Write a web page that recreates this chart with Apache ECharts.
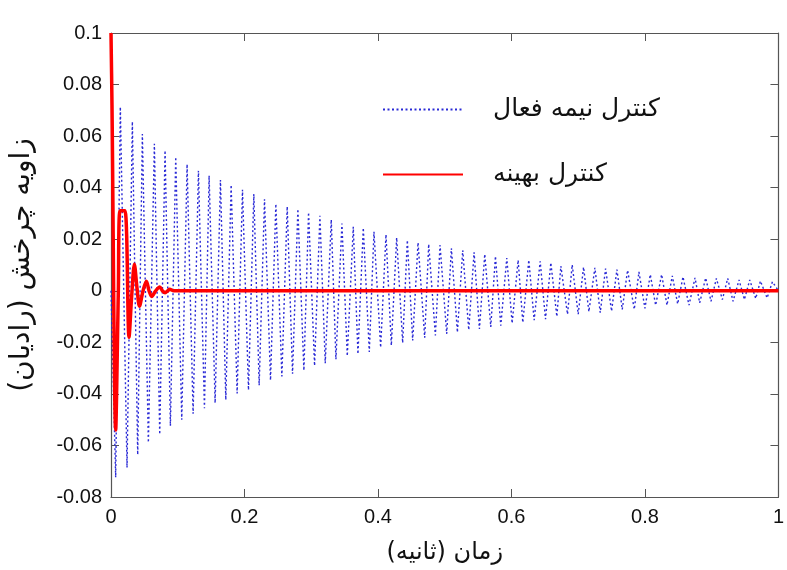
<!DOCTYPE html>
<html>
<head>
<meta charset="utf-8">
<script src="https://cdn.jsdelivr.net/npm/echarts@6/dist/echarts.min.js"></script>
<style>html,body{margin:0;padding:0;background:#fff;}#c{width:787px;height:570px;}</style>
</head>
<body>
<div id="c"></div>
<script>
// Tick labels
const xTicks = [0, 0.2, 0.4, 0.6, 0.8, 1];
const yTicks = [-0.08, -0.06, -0.04, -0.02, 0, 0.02, 0.04, 0.06, 0.08, 0.1];

// Series names
const seriesNames = ['کنترل نیمه فعال', 'کنترل بهینه'];
const xName = 'زمان (ثانیه)';
const yName = 'زاویه چرخش (رادیان)';

// Semi-active control (blue dotted): read peaks and troughs
const peakTimes = [0.014, 0.032, 0.047, 0.065, 0.081, 0.097, 0.114, 0.131, 0.147, 0.164, 0.180, 0.197, 0.214, 0.230, 0.247, 0.264, 0.280, 0.296, 0.313, 0.330,
  0.346, 0.363, 0.378, 0.394, 0.412, 0.428, 0.444, 0.460, 0.476, 0.493, 0.510, 0.527, 0.544, 0.560, 0.576, 0.593, 0.610, 0.626, 0.643, 0.659,
  0.674, 0.691, 0.708, 0.725, 0.741, 0.758, 0.774, 0.791, 0.808, 0.825, 0.841, 0.857, 0.875, 0.891, 0.907, 0.924, 0.941, 0.957, 0.973, 0.991];
const peakValues = [0.0713, 0.0656, 0.0608, 0.0570, 0.0544, 0.0519, 0.0491, 0.0466, 0.0447, 0.0430, 0.0411, 0.0392, 0.0375, 0.0355, 0.0337, 0.0327, 0.0317, 0.0304, 0.0291, 0.0276,
  0.0261, 0.0248, 0.0244, 0.0229, 0.0218, 0.0206, 0.0196, 0.0187, 0.0181, 0.0177, 0.0165, 0.0157, 0.0149, 0.0142, 0.0134, 0.0127, 0.0119, 0.0119, 0.0114, 0.0109,
  0.0096, 0.0101, 0.0092, 0.0089, 0.0086, 0.0082, 0.0080, 0.0073, 0.0063, 0.0063, 0.0058, 0.0054, 0.0050, 0.0050, 0.0048, 0.0048, 0.0042, 0.0042, 0.0038, 0.0035];
const troughTimes = [0.007, 0.024, 0.040, 0.056, 0.073, 0.089, 0.106, 0.123, 0.140, 0.156, 0.172, 0.189, 0.206, 0.222, 0.239, 0.256, 0.272, 0.289, 0.305, 0.321,
  0.337, 0.354, 0.370, 0.387, 0.404, 0.420, 0.437, 0.452, 0.470, 0.486, 0.503, 0.519, 0.536, 0.552, 0.569, 0.584, 0.601, 0.617, 0.634, 0.651,
  0.668, 0.684, 0.700, 0.716, 0.733, 0.750, 0.766, 0.784, 0.800, 0.816, 0.833, 0.849, 0.866, 0.882, 0.899, 0.916, 0.932, 0.949, 0.966, 0.983];
const troughValues = [-0.0724, -0.0686, -0.0636, -0.0589, -0.0557, -0.0524, -0.0500, -0.0477, -0.0456, -0.0435, -0.0423, -0.0398, -0.0385, -0.0367, -0.0347, -0.0332, -0.0322, -0.0309, -0.0291, -0.0281,
  -0.0266, -0.0253, -0.0245, -0.0237, -0.0220, -0.0212, -0.0202, -0.0193, -0.0182, -0.0173, -0.0167, -0.0161, -0.0152, -0.0148, -0.0140, -0.0135, -0.0126, -0.0123, -0.0114, -0.0110,
  -0.0100, -0.0091, -0.0091, -0.0081, -0.0085, -0.0079, -0.0072, -0.0072, -0.0068, -0.0056, -0.0056, -0.0051, -0.0056, -0.0047, -0.0041, -0.0034, -0.0041, -0.0034, -0.0030, -0.0028];
const blueStart = [0, 0];
const blueEnd = [1, 0];

// Optimal control (red solid)
const redTimes = [0, 0.0015, 0.007, 0.011, 0.0135, 0.021, 0.027, 0.031, 0.035, 0.039, 0.0426, 0.048, 0.053, 0.057, 0.061, 0.067, 0.073, 0.077, 0.081, 0.085, 0.088, 0.094, 1];
const redValues = [0.1, 0.072, -0.054, 0.0, 0.031, 0.031, -0.018, -0.002, 0.0103, 0.001, -0.006, 0.0, 0.0037, 0.0, -0.0022, 0.0, 0.0015, 0.0, -0.0008, 0.0, 0.0006, 0, 0];

// Build data
const blueData = [blueStart];
for (let i = 0; i < troughTimes.length; i++) {
  blueData.push([troughTimes[i], troughValues[i]]);
  blueData.push([peakTimes[i], peakValues[i]]);
}
blueData.push(blueEnd);
const redData = redTimes.map((t, i) => [t, redValues[i]]);

const chart = echarts.init(document.getElementById('c'), null, {renderer: 'canvas'});
const axisColor = '#555';
const numFont = {fontFamily: 'Liberation Sans, Arial, sans-serif', fontSize: 20, color: '#111'};
const fmt = v => String(+v.toFixed(2));
const yAxisBase = {
  type: 'value', min: yTicks[0], max: yTicks[yTicks.length - 1], interval: 0.02,
  splitLine: {show: false},
  axisLine: {show: true, onZero: false, lineStyle: {color: axisColor, width: 1.2}},
  axisTick: {show: true, inside: true, length: 8, lineStyle: {color: axisColor}}
};
const xAxisBase = {
  type: 'value', min: xTicks[0], max: xTicks[xTicks.length - 1], interval: 0.2,
  splitLine: {show: false},
  axisLine: {show: true, onZero: false, lineStyle: {color: axisColor, width: 1.2}},
  axisTick: {show: true, inside: true, length: 8, lineStyle: {color: axisColor}}
};

chart.setOption({
  animation: false,
  backgroundColor: '#fff',
  grid: {left: 111, right: 7, top: 33, bottom: 62, containLabel: false},
  legend: {
    orient: 'vertical', left: 377, top: 92,
    itemWidth: 80, itemHeight: 14, itemGap: 40,
    itemStyle: {opacity: 0},
    data: seriesNames,
    textStyle: {fontFamily: 'DejaVu Sans', fontSize: 25, color: '#111', padding: [0, 0, 0, 25]}
  },
  xAxis: [
    Object.assign({}, xAxisBase, {
      position: 'bottom',
      axisLabel: Object.assign({margin: 10, formatter: fmt}, numFont),
      name: xName, nameLocation: 'middle', nameGap: 44,
      nameTextStyle: {fontFamily: 'DejaVu Sans', fontSize: 24, color: '#111'}
    }),
    Object.assign({}, xAxisBase, {position: 'top', axisLabel: {show: false}})
  ],
  yAxis: [
    Object.assign({}, yAxisBase, {
      position: 'left',
      axisLabel: Object.assign({margin: 9, formatter: fmt}, numFont),
      name: yName, nameLocation: 'middle', nameGap: 75,
      nameTextStyle: {fontFamily: 'DejaVu Sans', fontSize: 28, color: '#111'}
    }),
    Object.assign({}, yAxisBase, {position: 'right', axisLabel: {show: false}})
  ],
  series: [
    {
      name: seriesNames[0], type: 'line', data: blueData, showSymbol: false, symbol: 'none',
      lineStyle: {color: '#2a2ad6', width: 1.4, type: [2, 2.5]},
      itemStyle: {color: '#2a2ad6'}, z: 2
    },
    {
      name: seriesNames[1], type: 'line', data: redData, showSymbol: false, symbol: 'none',
      smooth: 0.3,
      lineStyle: {color: '#ff0000', width: 3.5},
      itemStyle: {color: '#ff0000'}, z: 3
    }
  ]
});
</script>
</body>
</html>
